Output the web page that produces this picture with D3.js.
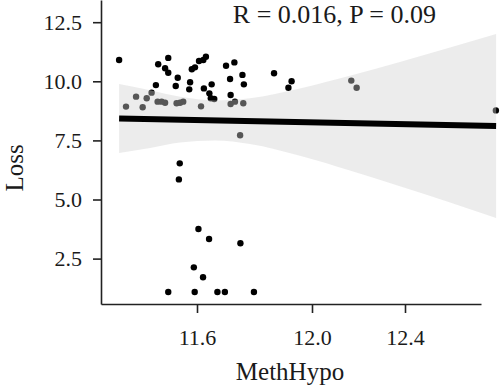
<!DOCTYPE html>
<html>
<head>
<meta charset="utf-8">
<script src="https://cdn.jsdelivr.net/npm/d3@7"></script>
<style>
  html, body { margin: 0; padding: 0; background: #fff; }
  svg { display: block; }
</style>
</head>
<body>
<svg id="chart" width="500" height="391"></svg>
<script>
// ---- data ----
const pointX = [
  11.329, 11.500, 11.465, 11.489, 11.500, 11.533, 11.457, 11.442, 11.526, 11.576,
  11.573, 11.582, 11.593, 11.607, 11.622, 11.631, 11.624, 11.651, 11.643, 11.648,
  11.660, 11.701, 11.730, 11.715, 11.758, 11.763, 11.717, 11.868, 11.929, 11.918,
  11.353, 11.388, 11.411, 11.425, 11.463, 11.477, 11.489, 11.529, 11.541, 11.552,
  11.614, 11.717, 11.732, 11.761, 11.750, 12.169, 12.192, 12.791,
  11.540, 11.537, 11.605, 11.642, 11.751, 11.589, 11.621, 11.500, 11.592, 11.671,
  11.697, 11.798
];
const pointY = [
  10.90, 10.99, 10.72, 10.55, 10.36, 10.15, 9.84, 9.52, 9.80, 9.96,
  9.66, 10.51, 10.59, 10.86, 10.90, 11.04, 9.70, 9.87, 9.49, 9.28,
  9.25, 10.66, 10.80, 10.10, 10.27, 9.87, 9.42, 10.34, 10.00, 9.73,
  8.93, 9.35, 8.90, 9.28, 9.14, 9.14, 9.09, 9.07, 9.09, 9.14,
  8.94, 9.04, 9.14, 9.07, 7.72, 10.03, 9.73, 8.77,
  6.53, 5.85, 3.75, 3.33, 3.15, 2.13, 1.71, 1.09, 1.09, 1.09,
  1.09, 1.09
];
// fitted line and confidence band
const fitX = [11.329, 12.792];
const fitY = [8.43, 8.11];
const bandX     = [11.329, 11.437, 11.541, 11.663, 11.784, 11.958, 12.163, 12.378, 12.594, 12.792];
const bandUpper = [9.886, 9.619, 9.344, 9.192, 9.285, 9.700, 10.237, 10.821, 11.426, 12.001];
const bandLower = [6.967, 7.183, 7.407, 7.500, 7.348, 6.849, 6.227, 5.558, 4.869, 4.217];
// axis ticks
const xTicks = [11.6, 12.0, 12.4];
const yTicks = [2.5, 5.0, 7.5, 10.0, 12.5];
const statLabel = "R = 0.016, P = 0.09";
const xTitle = "MethHypo";
const yTitle = "Loss";

// ---- scales ----
const svg = d3.select("#chart");
const x = d3.scaleLinear()
  .domain([11.266, 11.6, 12.0, 12.4, 12.727])
  .range([101, 197, 312, 405, 481]);
const y = d3.scaleLinear()
  .domain([0.58, 13.439])
  .range([304, 0]);

const font = "'Liberation Serif', 'Times New Roman', serif";
const ink = "#1a1a1a";

// ---- points (drawn below the band, as in ggplot) ----
svg.append("g")
  .selectAll("circle")
  .data(pointX.map((d, i) => [d, pointY[i]]))
  .join("circle")
  .attr("cx", d => x(d[0]))
  .attr("cy", d => y(d[1]))
  .attr("r", 3.2)
  .attr("fill", "#000");

// ---- confidence band ----
const bandData = bandX.map((d, i) => ({ x: d, lo: bandLower[i], hi: bandUpper[i] }));
svg.append("path")
  .datum(bandData)
  .attr("d", d3.area()
    .x(d => x(d.x))
    .y0(d => y(d.lo))
    .y1(d => y(d.hi))
    .curve(d3.curveMonotoneX))
  .attr("fill", "rgb(208,208,208)")
  .attr("fill-opacity", 0.41);

// ---- fitted line ----
svg.append("path")
  .datum(fitX.map((d, i) => [d, fitY[i]]))
  .attr("d", d3.line().x(d => x(d[0])).y(d => y(d[1])))
  .attr("stroke", "#000")
  .attr("stroke-width", 6)
  .attr("fill", "none");

// ---- axes ----
const xAxis = svg.append("g")
  .attr("transform", "translate(0,304)")
  .call(d3.axisBottom(x).tickValues(xTicks).tickFormat(d3.format(".1f"))
    .tickSize(9).tickSizeOuter(0).tickPadding(16));
const yAxis = svg.append("g")
  .attr("transform", "translate(101,0)")
  .call(d3.axisLeft(y).tickValues(yTicks).tickFormat(d3.format(".1f"))
    .tickSize(8).tickSizeOuter(0).tickPadding(11));

[xAxis, yAxis].forEach(g => {
  g.select(".domain").attr("stroke", "#222").attr("stroke-width", 1.6);
  g.selectAll(".tick line").attr("stroke", "#222").attr("stroke-width", 1.6);
  g.selectAll(".tick text")
    .attr("font-family", font)
    .attr("font-size", 22)
    .attr("fill", ink);
});

// ---- titles ----
svg.append("text")
  .attr("x", 290).attr("y", 380)
  .attr("text-anchor", "middle")
  .attr("font-family", font).attr("font-size", 25)
  .attr("fill", ink)
  .text(xTitle);

svg.append("text")
  .attr("transform", "translate(23,168) rotate(-90)")
  .attr("text-anchor", "middle")
  .attr("font-family", font).attr("font-size", 25)
  .attr("fill", ink)
  .text(yTitle);

svg.append("text")
  .attr("x", 436).attr("y", 23)
  .attr("text-anchor", "end")
  .attr("font-family", font).attr("font-size", 26)
  .attr("fill", ink)
  .text(statLabel);
</script>
</body>
</html>
